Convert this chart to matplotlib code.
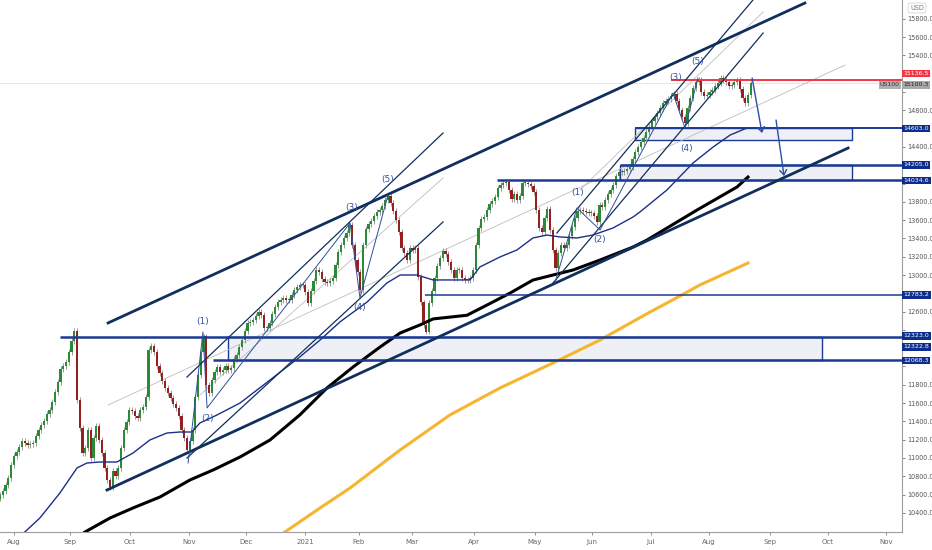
import numpy as np
import matplotlib
matplotlib.use("Agg")
import matplotlib.pyplot as plt
from matplotlib.patches import Rectangle, FancyArrowPatch

# daily closes, US100 (bar index 0 = late Jul 2020)
closes = [
    10596, 10639, 10705, 10781, 10924, 11022, 11066, 11120, 11186, 11164,
    11142, 11153, 11164, 11241, 11306, 11361, 11404, 11481, 11525, 11612,
    11721, 11831, 11973, 12006, 12049, 12159, 12279, 12388, 11634, 11328,
    11055, 11109, 11306, 11000, 11219, 11350, 11197, 11055, 10891, 10760,
    10683, 10858, 10803, 10891, 11109, 11306, 11394, 11525, 11514, 11459,
    11437, 11525, 11557, 11667, 12180, 12224, 12159, 12006, 11929, 11842,
    11765, 11711, 11656, 11590, 11547, 11459, 11306, 11219, 11087, 11186,
    11306, 11667, 11907, 12159, 12330, 11798, 11711, 11853, 11940, 11995,
    11940, 11962, 12006, 11962, 11984, 12082, 12126, 12213, 12290, 12388,
    12476, 12487, 12508, 12552, 12596, 12563, 12421, 12421, 12476, 12574,
    12650, 12705, 12727, 12749, 12727, 12727, 12782, 12836, 12869, 12891,
    12891, 12814, 12694, 12825, 12935, 13055, 13033, 12957, 12924, 12913,
    12935, 12967, 13110, 13252, 13328, 13405, 13459, 13547, 13328, 13164,
    13033, 12836, 13328, 13503, 13558, 13590, 13645, 13689, 13711, 13754,
    13820, 13864, 13787, 13700, 13601, 13470, 13295, 13241, 13164, 13295,
    13273, 13295, 12978, 12700, 12450, 12380, 12694, 12825, 12967, 13099,
    13186, 13263, 13230, 13142, 13055, 12967, 13055, 13055, 12967, 12946,
    12946, 12967, 13055, 13328, 13514, 13612, 13634, 13711, 13776, 13809,
    13853, 13951, 13984, 14006, 14017, 13929, 13831, 13886, 13820, 13864,
    14006, 14006, 13995, 13973, 13907, 13711, 13514, 13470, 13623, 13722,
    13492, 13273, 13077, 13241, 13328, 13295, 13328, 13427, 13525, 13623,
    13700, 13711, 13700, 13689, 13678, 13678, 13645, 13580, 13765, 13743,
    13820, 13886, 13929, 13984, 14082, 14126, 14126, 14137, 14159, 14181,
    14268, 14345, 14399, 14454, 14498, 14563, 14618, 14683, 14727, 14771,
    14826, 14880, 14902, 14924, 14957, 14979, 14906, 14804, 14727, 14662,
    14826, 14935, 15044, 15110, 15132, 15000, 14957, 14968, 15000, 15022,
    15066, 15099, 15153, 15132, 15110, 15066, 15077, 15110, 15132, 15033,
    14935, 14880, 14968, 15100,
]
last_price = 15100.3

# moving averages (bar, value)
ma_blue_bars = [9, 14.5, 21.8, 28, 31.6, 36.4, 42.5, 48.4, 54.5, 60.7, 65.5, 69.8, 72.7, 78.9,
                87.3, 98.2, 109, 116.4, 123.6, 133.5, 140.7, 145.5, 151.6, 157.5, 163.6, 170.9,
                174.5, 181.8, 188, 193.8, 198.9, 203.6, 209.8, 215.6, 222.9, 230.2, 232.7,
                242.5, 252, 259.3, 265.5, 271.6]
ma_blue_vals = [10191, 10344, 10618, 10891, 10945, 10956, 10956, 11055, 11197, 11273, 11284,
                11284, 11383, 11470, 11601, 11853, 12104, 12290, 12487, 12705, 12913, 13000,
                13000, 12946, 12946, 12946, 13088, 13197, 13274, 13405, 13437, 13416, 13405,
                13437, 13514, 13634, 13689, 13929, 14224, 14399, 14530, 14607]
ma_black_bars = [30.9, 40, 48.4, 58.2, 69.1, 77.5, 87.3, 98.2, 109, 118.9, 128.4, 138.2, 145.5,
                 152.7, 157.5, 169.8, 177.1, 185.5, 193.8, 201.1, 208.4, 218.2, 230.2, 235.3,
                 253.5, 268, 272]
ma_black_vals = [10191, 10344, 10454, 10574, 10760, 10869, 11011, 11197, 11470, 11765, 11995,
                 12213, 12366, 12454, 12520, 12560, 12672, 12803, 12945, 13000, 13055, 13164,
                 13306, 13383, 13711, 13962, 14071]
ma_yellow_bars = [103.6, 116.4, 127.3, 145.5, 163.6, 181.8, 201.8, 218.2, 236.4, 247.3, 254.5, 272]
ma_yellow_vals = [10191, 10454, 10672, 11088, 11470, 11765, 12049, 12290, 12596, 12771, 12891, 13131]

# drawn trend lines: (bar1, price1, bar2, price2)
thick_lines = [(39.3, 12476, 292.7, 15973), (38.9, 10650, 308.4, 14388)]
thin_lines = [(68, 11885, 161.1, 14552), (68, 11000, 161.1, 13580),
              (202.5, 13459, 273.8, 16006), (201.1, 12913, 277.5, 15645)]
grey_lines = [(39.3, 11579, 307.3, 15295), (72.7, 11689, 161.1, 14060),
              (210.9, 13929, 277.5, 15875)]
wave1_bars = [68.4, 73.8, 75.3, 127.3, 130.9, 141.1]
wave1_vals = [10945, 12377, 11547, 13569, 12749, 13875]
wave2_bars = [201.8, 209.8, 218.2, 244.7, 249.1, 253.8]
wave2_vals = [12913, 13733, 13492, 14989, 14607, 15153]
wave_labels = ['(1)', '(2)', '(3)', '(4)', '(5)']
wave1_lbl_bars = [73.8, 75.6, 128, 130.9, 141.1]
wave1_lbl_vals = [12487, 11437, 13733, 12640, 14049]
wave2_lbl_bars = [210.2, 218.2, 245.5, 249.5, 253.5]
wave2_lbl_vals = [13907, 13383, 15164, 14388, 15339]

# horizontal levels: (price, start bar)
levels = [(12323.0, 21.8), (12068.3, 77.5), (12783.2, 154.5), (14034.6, 180.7),
          (14205.0, 225.5), (14603.0, 230.9)]
level_widths = [1.8, 1.8, 1.1, 1.8, 1.8, 1.4]
red_level = (15136.5, 244.4)
# boxes: (bar1, bar2, low, high)
boxes = [(82.9, 298.9, 12068.3, 12322.8), (225.5, 309.8, 14034.6, 14205.0),
         (230.9, 309.8, 14476, 14603.0)]
arrows = [(273.5, 15153, 277.1, 14552), (282.2, 14694, 285.1, 14082)]

month_bars = [5.1, 25.5, 47.3, 68.7, 89.3, 110.9, 130.4, 149.8, 172.4, 194.5, 215.1,
              236.7, 257.8, 280, 301.1, 322.2]
month_names = ['Aug', 'Sep', 'Oct', 'Nov', 'Dec', '2021', 'Feb', 'Mar', 'Apr', 'May', 'Jun',
               'Jul', 'Aug', 'Sep', 'Oct', 'Nov']
# price ticks hidden behind the level tags
hidden_ticks = [15200, 15000, 14600, 14200, 14000, 12800, 12400, 12200, 12000]

NAVY = '#102f5e'
LEVEL = '#1b3a94'
WAVE = '#3654a6'

fig = plt.figure(figsize=(9.32, 5.5), dpi=100)
ax = fig.add_axes([0, 18 / 550, 902 / 932, 532 / 550])
ax.set_xlim(0, 328)
ax.set_ylim(10191, 16006)

# candles
c = np.array(closes, dtype=float)
o = np.concatenate([[c[0] - 40], c[:-1]])
x = np.arange(len(c))
up = c >= o
wick = 30
ax.vlines(x, np.minimum(o, c) - wick, np.maximum(o, c) + wick, color='#9a9a9a', lw=0.7, zorder=3)
body_h = np.maximum(np.abs(c - o), 10)
ax.bar(x[up], body_h[up], bottom=np.minimum(o, c)[up], width=0.75, color='#2a8a36', zorder=4, linewidth=0)
ax.bar(x[~up], body_h[~up], bottom=np.minimum(o, c)[~up], width=0.75, color='#962020', zorder=4, linewidth=0)

# moving averages
ax.plot(ma_blue_bars, ma_blue_vals, color='#1d2f8a', lw=1.0, zorder=5)
ax.plot(ma_black_bars, ma_black_vals, color='black', lw=2.2, zorder=5)
ax.plot(ma_yellow_bars, ma_yellow_vals, color='#f5b52e', lw=2.2, zorder=5)

# boxes
for b1, b2, lo, hi in boxes:
    ax.add_patch(Rectangle((b1, lo), b2 - b1, hi - lo, facecolor='#eef0f5', edgecolor=LEVEL,
                           lw=1.0, zorder=1))

# current price line
ax.axhline(last_price, color='#c8c8c8', lw=0.6, ls=(0, (1, 1)), zorder=2)

for (p, b0), lw in zip(levels, level_widths):
    ax.plot([b0, 328], [p, p], color=LEVEL, lw=lw, zorder=6, solid_capstyle='butt')
ax.plot([red_level[1], 328], [red_level[0]] * 2, color='#f23645', lw=1.4, zorder=6)

for b1, p1, b2, p2 in thick_lines:
    ax.plot([b1, b2], [p1, p2], color=NAVY, lw=2.0, zorder=6)
for b1, p1, b2, p2 in thin_lines:
    ax.plot([b1, b2], [p1, p2], color=NAVY, lw=0.9, zorder=6)
for b1, p1, b2, p2 in grey_lines:
    ax.plot([b1, b2], [p1, p2], color='#bdbdbd', lw=0.6, zorder=2)
ax.plot(wave1_bars, wave1_vals, color='#2f4f9a', lw=0.7, zorder=6)
ax.plot(wave2_bars, wave2_vals, color='#2f4f9a', lw=0.7, zorder=6)

for lbl, b, p in zip(wave_labels, wave1_lbl_bars, wave1_lbl_vals):
    ax.text(b, p, lbl, color=WAVE, fontsize=6.5, ha='center', va='center', zorder=7)
for lbl, b, p in zip(wave_labels, wave2_lbl_bars, wave2_lbl_vals):
    ax.text(b, p, lbl, color=WAVE, fontsize=6.5, ha='center', va='center', zorder=7)

for b1, p1, b2, p2 in arrows:
    ax.add_patch(FancyArrowPatch((b1, p1), (b2, p2), arrowstyle='->,head_length=3.5,head_width=2.5',
                                 color='#2a50a5', lw=1.0, zorder=7, shrinkA=0, shrinkB=0))

# axes styling
for s in ['top', 'left']:
    ax.spines[s].set_visible(False)
ax.spines['right'].set_color('#9e9e9e')
ax.spines['bottom'].set_color('#9e9e9e')
ax.spines['right'].set_linewidth(0.8)
ax.spines['bottom'].set_linewidth(0.8)
ax.yaxis.tick_right()
yt = np.arange(10400, 15801, 200)
ax.set_yticks(yt)
ax.set_yticklabels(['' if v in hidden_ticks else f"{v:.1f}" for v in yt])
ax.tick_params(axis='y', labelsize=4.7, colors='#555555', length=2, width=0.5, pad=1.5)
ax.set_xticks(month_bars)
ax.set_xticklabels(month_names)
ax.tick_params(axis='x', labelsize=5, colors='#666666', length=2, width=0.5, pad=3)

ytr = ax.get_yaxis_transform()


def tag(price, text, bg, fg='white', dy=0):
    ax.annotate(text, xy=(1.0, price), xycoords=ytr, xytext=(1.2, dy), textcoords='offset points',
                fontsize=4.5, color=fg, ha='left', va='center', zorder=10, annotation_clip=False,
                bbox=dict(boxstyle='square,pad=0.2', fc=bg, ec='none'))


for p, txt in [(14603.0, '14603.0'), (14205.0, '14205.0'), (14034.6, '14034.6'),
               (12783.2, '12783.2'), (12068.3, '12068.3')]:
    tag(p, txt, '#0d2e8f')
tag(12323.0, '12323.0', '#0d2e8f', dy=0.8)
tag(12322.8, '12322.8', '#0d2e8f', dy=-7.2)
tag(red_level[0], '15136.5', '#f23645', dy=4.5)
tag(last_price, '15100.3', '#a8a8a8', fg='#222222', dy=-1.5)
ax.annotate('US100', xy=(1.0, last_price), xycoords=ytr, xytext=(-1.5, -1.5), textcoords='offset points',
            fontsize=4.5, color='#333333', ha='right', va='center', zorder=10, annotation_clip=False,
            bbox=dict(boxstyle='square,pad=0.2', fc='#b0b0b0', ec='none'))
fig.text(917 / 932, 1 - 8 / 550, 'USD', fontsize=4.7, color='#777777', ha='center', va='center',
         bbox=dict(boxstyle='round,pad=0.3', fc='white', ec='#cccccc', lw=0.5))

fig.savefig('out.png', dpi=100)
